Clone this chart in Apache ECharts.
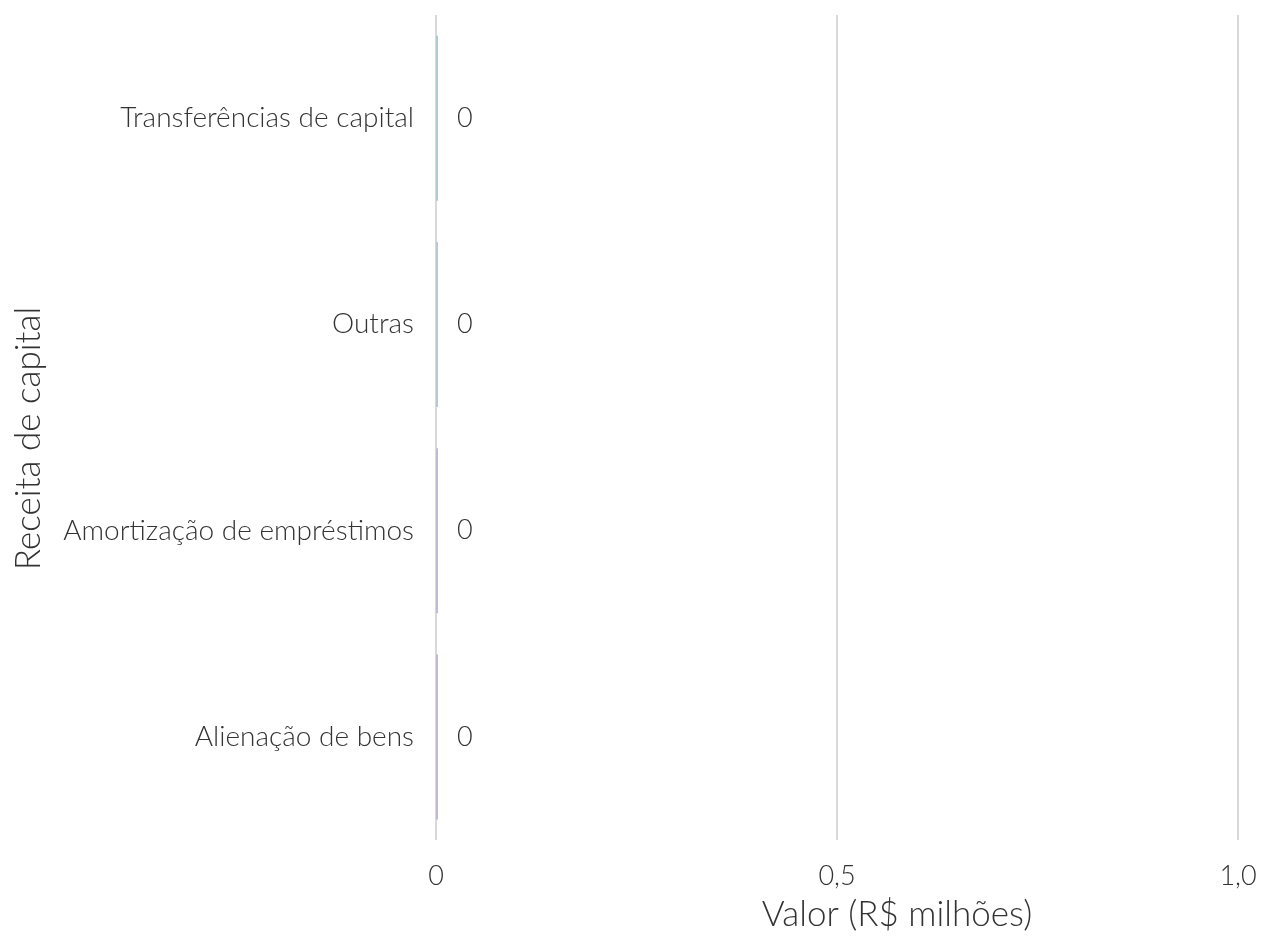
<!DOCTYPE html>
<html><head><meta charset="utf-8">
<script src="https://cdn.jsdelivr.net/npm/echarts@6/dist/echarts.min.js"></script>
<style>html,body{margin:0;padding:0;background:#fff}#c{width:1261px;height:948px}</style>
</head><body><div id="c"></div>
<script>
const categories = ['Alienação de bens', 'Amortização de empréstimos', 'Outras', 'Transferências de capital'];
const values = [0, 0, 0, 0];
const barColors = ['#c6b6d6', '#bcbcda', '#b8c8da', '#aecbd0'];
const xTicks = ['0', '0,5', '1,0'];

const chart = echarts.init(document.getElementById('c'));
const font = 'Lato';
chart.setOption({
  animation: false,
  grid: { left: 436, right: 23, top: 15, bottom: 108, containLabel: false, outerBoundsMode: 'none' },
  xAxis: {
    type: 'value', min: 0, max: 1, interval: 0.5,
    axisLine: { show: false }, axisTick: { show: false },
    splitLine: { show: true, lineStyle: { color: '#d9d9d9', width: 2 } },
    axisLabel: {
      color: '#333', fontFamily: font, fontWeight: 300, fontSize: 27, margin: 23,
      formatter: v => v === 0 ? xTicks[0] : (v === 0.5 ? xTicks[1] : xTicks[2])
    },
    name: 'Valor (R$ milhões)', nameLocation: 'middle', nameGap: 57,
    nameTextStyle: { color: '#333', fontFamily: font, fontWeight: 300, fontSize: 35, padding: [0, 0, 0, 120] }
  },
  yAxis: {
    type: 'category', data: categories,
    axisLine: { show: false }, axisTick: { show: false },
    axisLabel: { color: '#333', fontFamily: font, fontWeight: 300, fontSize: 28, margin: 22 },
    name: 'Receita de capital', nameLocation: 'middle', nameGap: 390, nameRotate: 90,
    nameTextStyle: { color: '#333', fontFamily: font, fontWeight: 300, fontSize: 35, padding: [0, 22, 0, 0] }
  },
  series: [{
    type: 'bar', barCategoryGap: '20%', barMinHeight: 2,
    data: values.map((v, i) => ({ value: v, itemStyle: { color: barColors[i] } })),
    label: { show: true, position: 'right', distance: 19, color: '#333', fontFamily: font, fontWeight: 300, fontSize: 27 }
  }]
});
</script></body></html>
